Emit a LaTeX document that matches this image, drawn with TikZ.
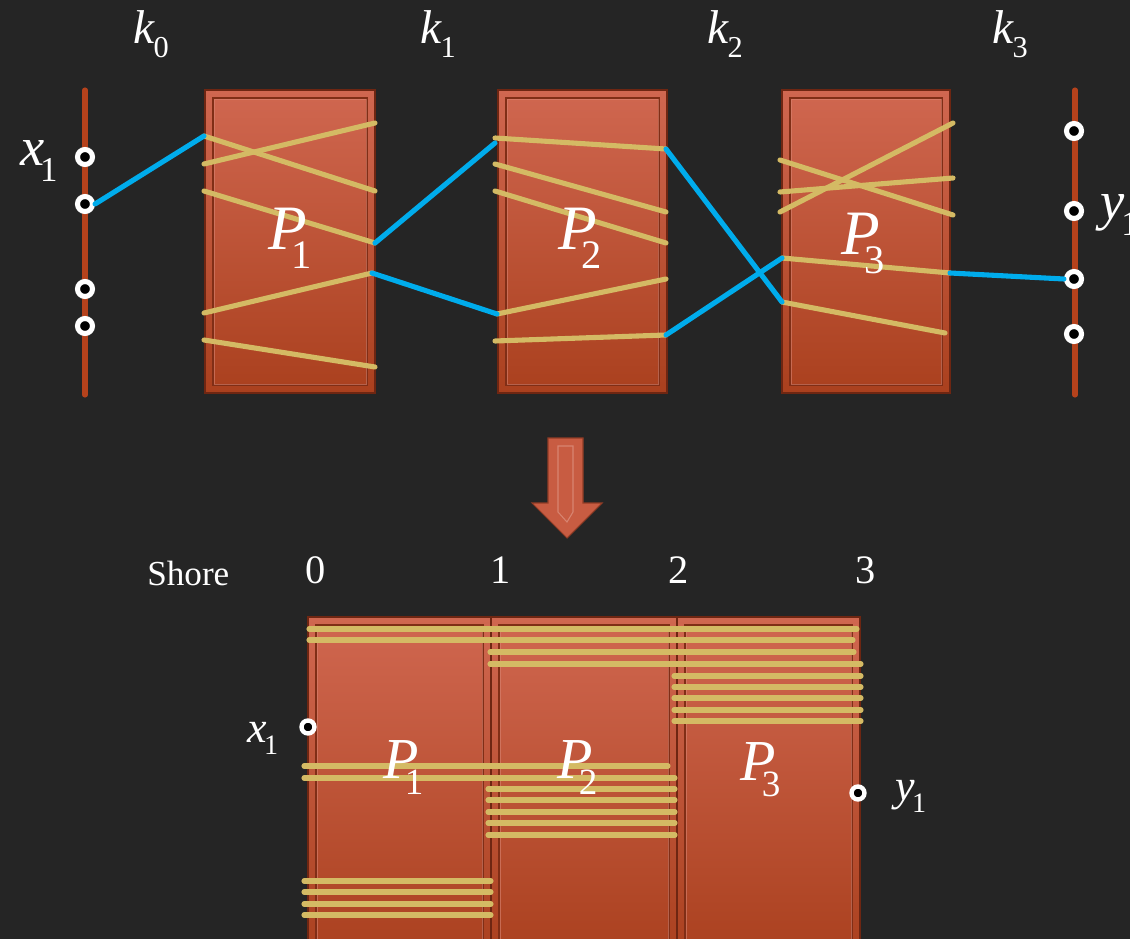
\documentclass[tikz,border=0pt]{standalone}
\usepackage{fontspec}
\setmainfont{Liberation Serif}
\usepackage{graphicx}
\usetikzlibrary{calc}
\definecolor{bg}{RGB}{37,37,37}
\definecolor{boxtop}{RGB}{208,103,80}
\definecolor{boxbot}{RGB}{170,64,30}
\definecolor{boxedge}{RGB}{110,38,18}
\definecolor{gold}{RGB}{212,186,100}
\definecolor{cyanl}{RGB}{0,172,236}
\definecolor{rail}{RGB}{181,66,28}
\definecolor{arrowc}{RGB}{200,92,66}
\newcommand\isub[3][-0.1em]{\textit{#2}\kern#1\raisebox{-0.29em}{\scalebox{0.64}{#3}}}
\tikzset{
  panelfill/.style={top color=boxtop, bottom color=boxbot, draw=boxedge, line width=0.6pt},
  bevel/.style={draw=boxedge!70!boxbot, line width=0.9pt},
  bevelhi/.style={draw=boxtop!80!white, line width=0.5pt, opacity=0.6},
  chord/.style={draw=gold, line width=2.9pt, line cap=round},
  link/.style={draw=cyanl, line width=2.9pt, line cap=round},
  railline/.style={draw=rail, line width=2.9pt, line cap=round},
  port/.style={circle, fill=black, draw=white, line width=2.9pt, minimum size=0.3cm, inner sep=0pt},
  sport/.style={circle, fill=black, draw=white, line width=2.5pt, minimum size=0.26cm, inner sep=0pt},
  lbl/.style={text=white, anchor=base west, inner sep=0pt},
}
\newcommand\panel[5]{%
  \path[panelfill] (#2,#3) rectangle (#4,#5);
  \draw[bevel] ([shift={(8,8)}]#2,#3) rectangle ([shift={(-8,-8)}]#4,#5);
  \draw[bevelhi] ([shift={(9,9)}]#2,#3) rectangle ([shift={(-9,-9)}]#4,#5);
  \coordinate (#1) at ($(#2,#3)!0.5!(#4,#5)$);
}
\begin{document}
\begin{tikzpicture}[x=0.02cm,y=-0.02cm]
\fill[bg] (0,0) rectangle (1130,939);
\clip (0,0) rectangle (1130,939);

% ---- top labels
\node[lbl, font=\fontsize{27}{27}\selectfont] (k0) at (133,44) {\isub[-0.03em]{k}{0}};
\node[lbl, font=\fontsize{27}{27}\selectfont] (k1) at (420,44) {\isub[-0.03em]{k}{1}};
\node[lbl, font=\fontsize{27}{27}\selectfont] (k2) at (707,44) {\isub[-0.03em]{k}{2}};
\node[lbl, font=\fontsize{27}{27}\selectfont] (k3) at (992,44) {\isub[-0.03em]{k}{3}};

% ---- rails
\draw[railline] (85,90) -- (85,395);
\draw[railline] (1075,90) -- (1075,395);

% ---- panels top
\panel{B1}{205}{90}{375}{393}
\panel{B2}{498}{90}{667}{393}
\panel{B3}{782}{90}{950}{393}

% ---- chords P1
\draw[chord] (204,136) -- (375,191);
\draw[chord] (204,164) -- (375,123);
\draw[chord] (204,191) -- (375,243);
\draw[chord] (204,313) -- (372,273);
\draw[chord] (204,340) -- (375,367);
% ---- chords P2
\draw[chord] (495,138) -- (666,149);
\draw[chord] (495,164) -- (666,212);
\draw[chord] (495,191) -- (666,243);
\draw[chord] (497,314) -- (666,279);
\draw[chord] (495,341) -- (666,335);
% ---- chords P3
\draw[chord] (780,160) -- (953,215);
\draw[chord] (780,192) -- (953,178);
\draw[chord] (780,212) -- (953,123);
\draw[chord] (782,258) -- (950,273);
\draw[chord] (782,302) -- (945,333);

% ---- ports
\node[port] (L1) at (85,157) {};
\node[port] (L2) at (85,204) {};
\node[port] (L3) at (85,289) {};
\node[port] (L4) at (85,326) {};
\node[port] (R1) at (1074,131) {};
\node[port] (R2) at (1074,211) {};
\node[port] (R3) at (1074,279) {};
\node[port] (R4) at (1074,334) {};

% ---- blue path
\coordinate (a1) at (204,136);
\coordinate (a2) at (375,243);
\coordinate (a3) at (495,143);
\coordinate (a4) at (372,273);
\coordinate (a5) at (497,314);
\coordinate (a6) at (666,149);
\coordinate (a7) at (782,302);
\coordinate (a8) at (666,335);
\coordinate (a9) at (782,258);
\coordinate (a10) at (950,273);
\draw[link] (L2.east) -- (a1);
\draw[link] (a2) -- (a3);
\draw[link] (a4) -- (a5);
\draw[link] (a6) -- (a7);
\draw[link] (a8) -- (a9);
\draw[link] (a10) -- (R3.west);

% ---- labels top
\node[lbl, font=\fontsize{31}{31}\selectfont] (x1t) at (20,166) {\isub[-0.08em]{x}{1}};
\node[lbl, font=\fontsize{31}{31}\selectfont] (y1t) at (1100,220) {\isub[-0.06em]{y}{1}};
\node[lbl, font=\fontsize{36}{36}\selectfont] (P1t) at (268,250) {\isub[-0.24em]{P}{1}};
\node[lbl, font=\fontsize{36}{36}\selectfont] (P2t) at (558,250) {\isub[-0.24em]{P}{2}};
\node[lbl, font=\fontsize{36}{36}\selectfont] (P3t) at (841,255) {\isub[-0.24em]{P}{3}};

% ---- arrow
\draw[fill=arrowc, draw=boxedge!60!arrowc, line width=0.6pt]
  (548,438) -- (583,438) -- (583,503) -- (602,503) -- (567,538) -- (532,503) -- (548,503) -- cycle;
\draw[draw=boxtop!70!white, line width=0.6pt, opacity=0.7]
  (558,446) -- (573,446) -- (573,512) -- (567,522) -- (558,512) -- cycle;

% ---- bottom labels
\node[lbl, font=\fontsize{20}{20}\selectfont] (shore) at (147,585) {Shore};
\node[lbl, font=\fontsize{23}{23}\selectfont] (s0) at (305,583) {0};
\node[lbl, font=\fontsize{23}{23}\selectfont] (s1) at (490,583) {1};
\node[lbl, font=\fontsize{23}{23}\selectfont] (s2) at (668,583) {2};
\node[lbl, font=\fontsize{23}{23}\selectfont] (s3) at (855,583) {3};

% ---- bottom panels
\panel{C1}{308}{617}{491}{960}
\panel{C2}{491}{617}{677}{960}
\panel{C3}{677}{617}{860}{960}

% ---- bottom chords
\draw[chord] (309,629) -- (857,629);
\draw[chord] (309,640) -- (853,640);
\draw[chord] (490,652) -- (854,652);
\draw[chord] (490,664) -- (861,664);
\foreach \yy in {676,687,698,710,721} \draw[chord] (674,\yy) -- (861,\yy);
\draw[chord] (304,766) -- (668,766);
\draw[chord] (304,778) -- (675,778);
\foreach \yy in {789,800,812,823,835} \draw[chord] (488,\yy) -- (675,\yy);
\foreach \yy in {881,892,904,915} \draw[chord] (304,\yy) -- (491,\yy);

% ---- bottom ports and labels
\node[sport] (xb) at (308,727) {};
\node[sport] (yb) at (858,793) {};
\node[lbl, font=\fontsize{25}{25}\selectfont] (x1b) at (247,742) {\isub[-0.06em]{x}{1}};
\node[lbl, font=\fontsize{25}{25}\selectfont] (y1b) at (895,800) {\isub[-0.06em]{y}{1}};
\node[lbl, font=\fontsize{33}{33}\selectfont] (P1b) at (383,778) {\isub[-0.24em]{P}{1}};
\node[lbl, font=\fontsize{33}{33}\selectfont] (P2b) at (557,778) {\isub[-0.24em]{P}{2}};
\node[lbl, font=\fontsize{33}{33}\selectfont] (P3b) at (740,780) {\isub[-0.24em]{P}{3}};
\end{tikzpicture}
\end{document}
